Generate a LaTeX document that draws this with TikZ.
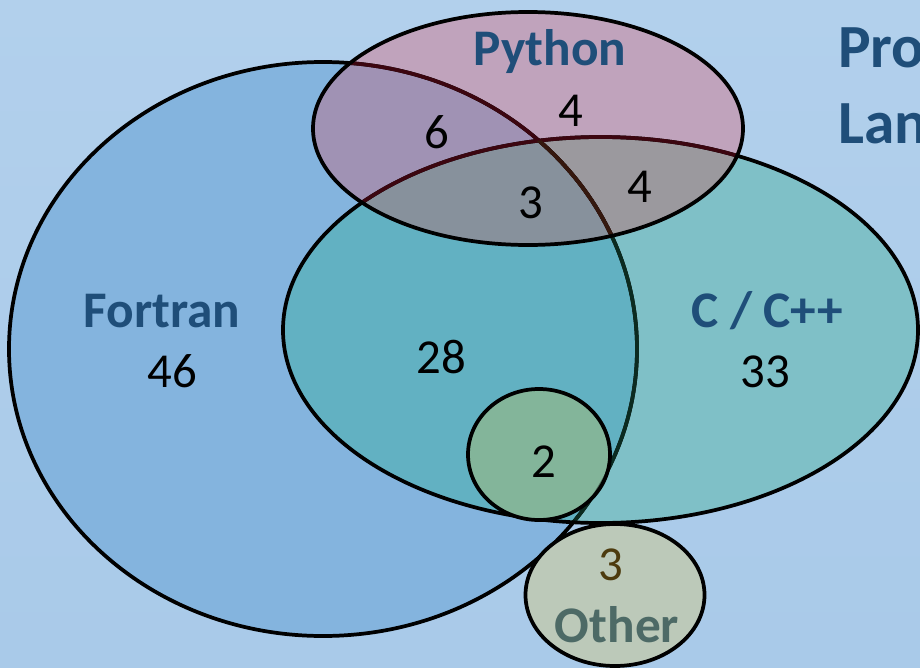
\documentclass[tikz,border=0pt]{standalone}
\usepackage{fontspec}
\setmainfont{Carlito}
\definecolor{bgtop}{HTML}{B2D0EC}
\definecolor{bgbot}{HTML}{A9CAE9}
\definecolor{fF}{HTML}{84B4DE}
\definecolor{fC}{HTML}{7FC0C7}
\definecolor{fFC}{HTML}{62B1C2}
\definecolor{fP}{HTML}{C0A3BC}
\definecolor{fFP}{HTML}{A092B4}
\definecolor{fPC}{HTML}{9B999E}
\definecolor{fFPC}{HTML}{87919C}
\definecolor{fsmall}{HTML}{83B59A}
\definecolor{fother}{HTML}{BCC9B9}
\definecolor{ttl}{HTML}{1F4E79}
\definecolor{othtxt}{HTML}{4D6A66}
\definecolor{othnum}{HTML}{4D3B0E}
\definecolor{lnG}{HTML}{0B2B20}
\definecolor{lnR}{HTML}{3C0610}
\definecolor{lnB}{HTML}{35180E}
\tikzset{
  outl/.style={line width=2.8pt},
  lbl/.style={font=\fontsize{38.5}{40}\selectfont\bfseries, text=ttl, inner sep=0pt, anchor=base},
  num/.style={font=\fontsize{36.6}{40}\selectfont, text=black, inner sep=0pt, anchor=base},
  ttlbl/.style={font=\fontsize{46}{50}\selectfont\bfseries, text=ttl, inner sep=0pt, anchor=base west},
}
\def\Fpath{(323,349) ellipse [x radius=314, y radius=287]}
\def\Ppath{(528,128.5) ellipse [x radius=215, y radius=116.5]}
\def\Cpath{(600.5,330) ellipse [x radius=317.5, y radius=193]}
\def\Spath{(539,454.5) ellipse [x radius=71, y radius=65.5]}
\def\Opath{(615,595) ellipse [x radius=89.5, y radius=71]}
\begin{document}
\begin{tikzpicture}[x=0.75pt,y=-0.75pt]
\useasboundingbox (0,0) rectangle (920,667);
\clip (0,0) rectangle (920,667);
\shade[top color=bgtop,bottom color=bgbot] (0,0) rectangle (920,667);
% region fills
\fill[fF] \Fpath;
\fill[fC] \Cpath;
\begin{scope}\clip \Fpath; \fill[fFC] \Cpath; \end{scope}
\fill[fP] \Ppath;
\begin{scope}\clip \Fpath; \fill[fFP] \Ppath; \end{scope}
\begin{scope}\clip \Cpath; \fill[fPC] \Ppath; \end{scope}
\begin{scope}\clip \Fpath; \clip \Cpath; \fill[fFPC] \Ppath; \end{scope}
% outlines
\draw[outl] \Fpath;
\begin{scope}\clip \Cpath; \draw[outl,lnG] \Fpath; \end{scope}
\draw[outl] \Cpath;
\begin{scope}\clip \Ppath; \draw[outl,lnR] \Fpath; \draw[outl,lnR] \Cpath; \end{scope}
\begin{scope}\clip \Ppath; \clip \Cpath; \draw[outl,lnB] \Fpath; \end{scope}
\draw[outl] \Ppath;
% small circle
\fill[fsmall] \Spath;
\begin{scope}\clip \Spath; \draw[line width=1.2pt,black!40!fsmall] \Fpath; \end{scope}
\draw[outl] \Spath;
% other
\fill[fother] \Opath;
\draw[outl] \Opath;
% labels
\node[lbl] (lpy) at (550,65) {Python};
\node[lbl] (lfo) at (162,327) {Fortran};
\node[lbl] (lcc) at (767,327) {C / C++};
\node[lbl,text=othtxt] (lot) at (617,642) {Other};
\node[ttlbl] (t1) at (838,68) {Pro};
\node[ttlbl] (t2) at (838,143) {Lan};
% numbers
\node[num] (n46) at (172,387) {46};
\node[num] (n33) at (765,387) {33};
\node[num] (n28) at (441,373) {28};
\node[num] (n6) at (437,148) {6};
\node[num] (n4a) at (571,126) {4};
\node[num] (n3) at (531,218) {3};
\node[num] (n4b) at (640,202) {4};
\node[num] (n2) at (544,477) {2};
\node[num,text=othnum] (n3o) at (611,580) {3};
\end{tikzpicture}
\end{document}
